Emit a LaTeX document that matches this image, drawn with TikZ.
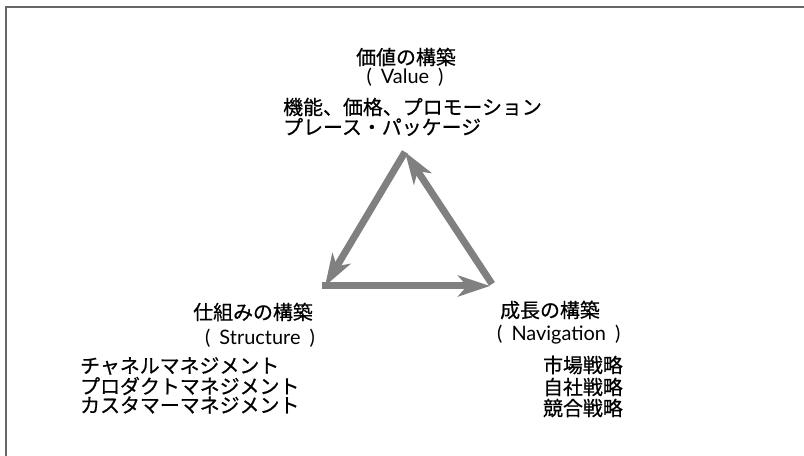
\documentclass[tikz,border=0pt]{standalone}
\usepackage{fontspec}
\setmainfont{Lato}
\newfontfamily\jp{Noto Sans CJK JP}[FakeBold=0.6]
\usetikzlibrary{arrows.meta}
\newcommand{\gsp}{\hspace{9bp}}
\begin{document}
\begin{tikzpicture}[x=1bp,y=-1bp,
  frame/.style={draw=black!60,line width=1.5bp},
  arr/.style={draw=black!50,line width=7bp,
    -{Stealth[length=32bp,width=21bp,inset=9bp]}},
  jt/.style={inner sep=0pt,font=\jp\fontsize{20}{20}\selectfont},
  lt/.style={inner sep=0pt,font=\fontsize{20}{22}\selectfont}]
\useasboundingbox (0,0) rectangle (804,456);
\fill[white] (0,0) rectangle (804,456);
\draw[frame] (6,456) -- (6,7) -- (804,7);
% triangle corners
\coordinate (T) at (405,152);
\coordinate (L) at (325,286);
\coordinate (R) at (490,286);
\draw[arr] (T) -- (L);
\draw[arr] ([xshift=-3.5bp]L) -- (R);
\draw[arr] ([xshift=2bp,yshift=2bp]R) -- (T);
% top
\node[jt] (vt) at (406,57) {価値の構築};
\node[lt] (vl) at (405,77) {(\gsp Value\gsp)};
\node[jt,anchor=west] (v1) at (283,107) {機能、価格、プロモーション};
\node[jt,anchor=west] (v2) at (283,127) {プレース・パッケージ};
% left
\node[jt,anchor=east] (st) at (313,312) {仕組みの構築};
\node[lt,anchor=east] (sl) at (315,338) {(\gsp Structure\gsp)};
\node[jt,anchor=west] (s1) at (80,366) {チャネルマネジメント};
\node[jt,anchor=west] (s2) at (80,386) {プロダクトマネジメント};
\node[jt,anchor=west] (s3) at (80,405) {カスタマーマネジメント};
% right
\node[jt,anchor=west] (nt) at (500,310) {成長の構築};
\node[lt,anchor=west] (nl) at (497,335) {(\gsp Navigation\gsp)};
\node[jt,anchor=east] (n1) at (623,365) {市場戦略};
\node[jt,anchor=east] (n2) at (623,387) {自社戦略};
\node[jt,anchor=east] (n3) at (623,408) {競合戦略};
\end{tikzpicture}
\end{document}
